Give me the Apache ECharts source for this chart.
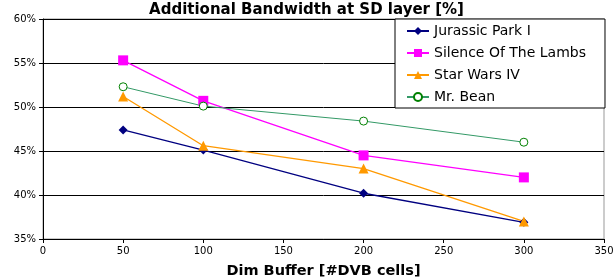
<!DOCTYPE html>
<html>
<head>
<meta charset="utf-8">
<script src="https://cdn.jsdelivr.net/npm/echarts@6/dist/echarts.min.js"></script>
<style>
html,body{margin:0;padding:0;background:#fff;}
#main{width:613px;height:279px;}
</style>
</head>
<body>
<div id="main"></div>
<script>
var bufferSizes = [50, 100, 200, 300];
var jurassicPark = [47.4, 45.1, 40.2, 36.9];
var silenceLambs = [55.3, 50.7, 44.5, 42.0];
var starWars = [51.2, 45.6, 43.0, 37.0];
var mrBean = [52.3, 50.1, 48.4, 46.0];
var seriesNames = ['Jurassic Park I', 'Silence Of The Lambs', 'Star Wars IV', 'Mr. Bean'];

function pairs(vals) {
    return bufferSizes.map(function (x, i) { return [x, vals[i]]; });
}

var font = 'DejaVu Sans, Verdana, sans-serif';
var myChart = echarts.init(document.getElementById('main'));
var option = {
    animation: false,
    textStyle: {fontFamily: font},
    title: {
        text: 'Additional Bandwidth at SD layer [%]',
        left: 'center',
        top: 3,
        padding: 0,
        textStyle: {fontSize: 15, fontWeight: 'bold', color: '#000', fontFamily: font}
    },
    legend: {
        orient: 'vertical',
        left: 395,
        top: 19,
        padding: [4, 19, 3, 11],
        itemGap: 6,
        itemWidth: 22,
        itemHeight: 10,
        backgroundColor: '#fff',
        borderColor: '#000',
        borderWidth: 1,
        textStyle: {fontSize: 14, color: '#000', fontFamily: font, lineHeight: 16},
        data: seriesNames
    },
    grid: {
        left: 43,
        right: 9,
        top: 19,
        bottom: 40,
        outerBoundsMode: 'none',
        containLabel: false,
        show: true,
        borderColor: '#999',
        borderWidth: 1
    },
    xAxis: {
        type: 'value',
        min: 0,
        max: 350,
        interval: 50,
        name: 'Dim Buffer [#DVB cells]',
        nameLocation: 'middle',
        nameGap: 25,
        nameTextStyle: {fontSize: 14.5, fontWeight: 'bold', color: '#000', fontFamily: font},
        axisLine: {lineStyle: {color: '#000'}},
        axisTick: {show: true, inside: false, length: 4, lineStyle: {color: '#000'}},
        axisLabel: {fontSize: 10, color: '#000', margin: 7, fontFamily: font},
        splitLine: {show: false}
    },
    yAxis: {
        type: 'value',
        min: 35,
        max: 60,
        interval: 5,
        axisLine: {show: true, lineStyle: {color: '#000'}},
        axisTick: {show: true, length: 4, lineStyle: {color: '#000'}},
        axisLabel: {fontSize: 10, color: '#000', margin: 7, formatter: '{value}%', fontFamily: font},
        splitLine: {show: true, lineStyle: {color: '#000', width: 1}}
    },
    series: [
        {
            name: seriesNames[0], type: 'line', data: pairs(jurassicPark),
            symbol: 'diamond', symbolSize: 9,
            lineStyle: {color: '#000080', width: 1.3},
            itemStyle: {color: '#000080'}
        },
        {
            name: seriesNames[1], type: 'line', data: pairs(silenceLambs),
            symbol: 'rect', symbolSize: 10,
            lineStyle: {color: '#ff00ff', width: 1.3},
            itemStyle: {color: '#ff00ff'}
        },
        {
            name: seriesNames[2], type: 'line', data: pairs(starWars),
            symbol: 'triangle', symbolSize: 10,
            lineStyle: {color: '#ff9900', width: 1.3},
            itemStyle: {color: '#ff9900'}
        },
        {
            name: seriesNames[3], type: 'line', data: pairs(mrBean),
            symbol: 'circle', symbolSize: 8,
            lineStyle: {color: '#339966', width: 1},
            itemStyle: {color: '#fff', borderColor: '#008000', borderWidth: 1}
        }
    ]
};
myChart.setOption(option);
</script>
</body>
</html>
